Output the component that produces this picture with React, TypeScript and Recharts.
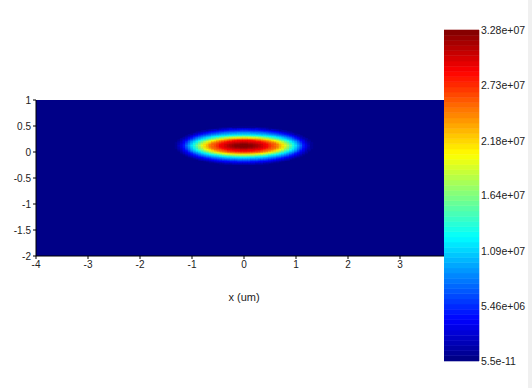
import React from "react";
import { ScatterChart, Scatter, XAxis, YAxis, ReferenceArea } from "recharts";

// axis ticks of the field plot
const xTicks = [-4, -3, -2, -1, 0, 1, 2, 3, 4];
const yTicks = [-2, -1.5, -1, -0.5, 0, 0.5, 1];

// colour bar range + labels
const peakValue = 3.28e7;
const colorbarTicks = [5.5e-11, 5.46e6, 1.09e7, 1.64e7, 2.18e7, 2.73e7, 3.28e7];
const colorbarLabels = ["5.5e-11", "5.46e+06", "1.09e+07", "1.64e+07", "2.18e+07", "2.73e+07", "3.28e+07"];
const levels = 64;

// spot centre (um)
const spotX = 0;
const spotY = 0.125;

// contour readings of the spot: level (fraction of peak) and half widths (um)
const contourLevels = [1, 0.94, 0.875, 0.75, 0.625, 0.5, 0.375, 0.25, 0.125, 0.0156];
const contourHalfX = [0, 0.32, 0.45, 0.65, 0.78, 0.88, 0.98, 1.08, 1.17, 1.32];
const contourHalfUp = [0, 0.058, 0.106, 0.131, 0.154, 0.18, 0.208, 0.26, 0.317, 0.356];
const contourHalfDown = [0, 0.058, 0.106, 0.144, 0.169, 0.195, 0.221, 0.265, 0.317, 0.375];

// cell grid covering the spot
const xStart = -1.4;
const xEnd = 1.4;
const xStep = 0.05;
const yStart = -0.3;
const yEnd = 0.55;
const yStep = 0.025;

const clamp = (v: number) => Math.max(0, Math.min(1, v));
const toHex = (v: number) => Math.round(clamp(v) * 255).toString(16).padStart(2, "0");

const jetColor = (level: number) => {
  const t = (level + 0.5) / levels;
  const r = 1.5 - Math.abs(4 * t - 3);
  const g = 1.5 - Math.abs(4 * t - 2);
  const b = 1.5 - Math.abs(4 * t - 1);
  return `#${toHex(r)}${toHex(g)}${toHex(b)}`;
};

const levelOf = (frac: number) => Math.max(0, Math.min(levels - 1, Math.floor(frac * levels)));

// value at a point from the nested elliptical contours
const fieldAt = (x: number, y: number) => {
  const dx = x - spotX;
  const dy = y - spotY;
  const radius = (k: number) => {
    const ay = dy >= 0 ? contourHalfUp[k] : contourHalfDown[k];
    return Math.sqrt((dx / contourHalfX[k]) ** 2 + (dy / ay) ** 2);
  };
  for (let k = 1; k < contourLevels.length; k++) {
    const s = radius(k);
    if (s <= 1) {
      if (k === 1) return 1 - (1 - contourLevels[1]) * s * s;
      const sPrev = radius(k - 1);
      const t = (1 - s) / (sPrev - s);
      return contourLevels[k] + (contourLevels[k - 1] - contourLevels[k]) * t;
    }
  }
  return 0;
};

interface Cell {
  x: number;
  y: number;
  level: number;
}

const cells: Cell[] = [];
for (let i = 0; xStart + i * xStep <= xEnd + 1e-9; i++) {
  for (let j = 0; yStart + j * yStep <= yEnd + 1e-9; j++) {
    const x = xStart + i * xStep;
    const y = yStart + j * yStep;
    const level = levelOf(fieldAt(x, y));
    if (level > 0) cells.push({ x, y, level });
  }
}

const tickStyle = { fontSize: 10, fill: "#222" };

export default function App() {
  return (
    <div
      style={{
        position: "absolute",
        left: 0,
        top: 0,
        width: 532,
        height: 388,
        background: "#fff",
        fontFamily: "'Liberation Sans', Arial, sans-serif",
      }}
    >
      <div style={{ position: "absolute", left: 0, top: 0 }}>
        <ScatterChart width={532} height={388} margin={{ top: 100, right: 80, bottom: 87, left: 6 }}>
          <XAxis
            type="number"
            dataKey="x"
            domain={[-4, 4]}
            ticks={xTicks}
            allowDataOverflow
            tick={tickStyle}
            tickSize={3}
            tickLine={{ stroke: "#000" }}
            axisLine={{ stroke: "#000" }}
            height={45}
            label={{ value: "x (um)", position: "insideBottom", offset: 0, fontSize: 11, fill: "#222" }}
          />
          <YAxis
            type="number"
            dataKey="y"
            domain={[-2, 1]}
            ticks={yTicks}
            allowDataOverflow
            tick={tickStyle}
            tickSize={3}
            tickLine={{ stroke: "#000" }}
            axisLine={{ stroke: "#000" }}
            width={30}
          />
          <ReferenceArea x1={-4} x2={4} y1={-2} y2={1} fill={jetColor(0)} fillOpacity={1} stroke="none" />
          {cells.map((c, k) => (
            <ReferenceArea
              key={k}
              x1={c.x - xStep / 2}
              x2={c.x + xStep / 2}
              y1={c.y - yStep / 2}
              y2={c.y + yStep / 2}
              fill={jetColor(c.level)}
              fillOpacity={1}
              stroke={jetColor(c.level)}
              strokeWidth={0.6}
            />
          ))}
          <Scatter data={[]} isAnimationActive={false} />
        </ScatterChart>
      </div>
      <div style={{ position: "absolute", left: 444, top: 0, background: "#fff" }}>
        <ScatterChart width={84} height={388} margin={{ top: 30, right: 0, bottom: 27, left: 0 }}>
          <XAxis type="number" dataKey="x" domain={[0, 1]} allowDataOverflow hide />
          <YAxis
            type="number"
            dataKey="y"
            orientation="right"
            domain={[0, peakValue]}
            allowDataOverflow
            ticks={colorbarTicks}
            tickFormatter={(_v: number, i: number) => colorbarLabels[i]}
            tick={{ fontSize: 10.5, fill: "#222" }}
            tickSize={0}
            tickMargin={2}
            axisLine={false}
            tickLine={false}
            width={49}
            interval={0}
          />
          {Array.from({ length: levels }, (_, lvl) => (
            <ReferenceArea
              key={lvl}
              x1={0}
              x2={1}
              y1={(lvl * peakValue) / levels}
              y2={((lvl + 1) * peakValue) / levels}
              fill={jetColor(lvl)}
              fillOpacity={1}
              stroke={jetColor(lvl)}
              strokeWidth={0.6}
            />
          ))}
          <Scatter data={[]} isAnimationActive={false} />
        </ScatterChart>
      </div>
      <div style={{ position: "absolute", left: 528, top: 0, width: 4, height: 388, background: "#f0f0f0" }} />
    </div>
  );
}
